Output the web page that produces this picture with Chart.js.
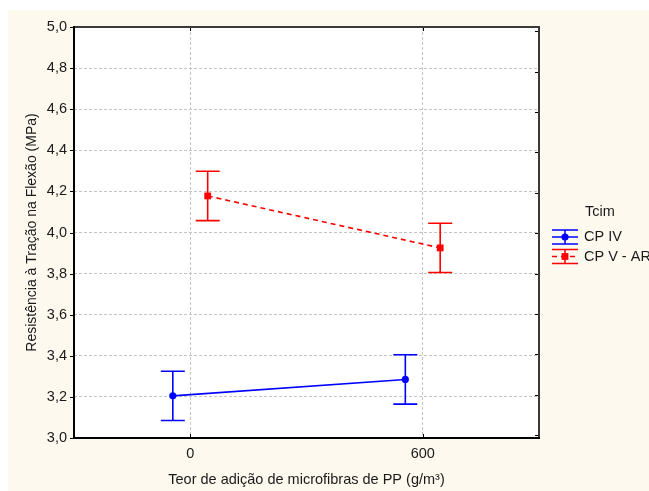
<!DOCTYPE html>
<html>
<head>
<meta charset="utf-8">
<script src="https://cdn.jsdelivr.net/npm/chart.js@4.4.0/dist/chart.umd.min.js"></script>
<style>
  html, body { margin: 0; padding: 0; background: #fff; }
  canvas { display: block; }
</style>
</head>
<body>
<canvas id="chart" width="649" height="491"></canvas>
<script>
// fibre dosage levels (g/m³) and cement groups
const teor = [0, 600];
const cpIV = [3.205, 3.285];
const cpIVerr = [0.12, 0.12];
const cpVAR = [4.178, 3.925];
const cpVARerr = [0.12, 0.12];
const yMin = 3.0, yMax = 5.0, yStep = 0.2;

// groups are drawn a little left/right of each dosage so the bars don't overlap
const dodge = 45;

const FONT = 'Arial, "Liberation Sans", sans-serif';
const INK = '#1a1a1a';
const BLUE = '#0000ff';
const RED = '#ff0000';

function pts(vals, shift) {
  return vals.map((v, i) => ({ x: teor[i] + shift, y: v }));
}
const virgula = v => v.toFixed(1).replace('.', ',');

const series = [
  { label: 'CP IV', vals: cpIV, err: cpIVerr, color: BLUE, shift: -dodge, style: 'circle', radius: 3.6, dash: [] },
  { label: 'CP V - AR', vals: cpVAR, err: cpVARerr, color: RED, shift: dodge, style: 'rect', radius: 4.8, dash: [5, 4] }
];

const background = {
  id: 'background',
  beforeDraw(chart) {
    const c = chart.ctx, a = chart.chartArea;
    c.save();
    c.fillStyle = '#ffffff';
    c.fillRect(0, 0, chart.width, chart.height);
    c.fillStyle = '#fdf9ee';
    c.fillRect(8, 10, chart.width - 8, chart.height - 10);
    c.fillStyle = '#ffffff';
    c.fillRect(a.left, a.top, a.right - a.left, a.bottom - a.top);
    c.restore();
  }
};

const errorBars = {
  id: 'errorBars',
  beforeDatasetsDraw(chart) {
    const c = chart.ctx, xs = chart.scales.x, ys = chart.scales.y;
    c.save();
    c.lineWidth = 1.6;
    series.forEach(s => {
      c.strokeStyle = s.color;
      s.vals.forEach((v, i) => {
        const px = xs.getPixelForValue(teor[i] + s.shift);
        const hi = ys.getPixelForValue(v + s.err[i]);
        const lo = ys.getPixelForValue(v - s.err[i]);
        c.beginPath();
        c.moveTo(px, hi); c.lineTo(px, lo);
        c.moveTo(px - 12, hi); c.lineTo(px + 12, hi);
        c.moveTo(px - 12, lo); c.lineTo(px + 12, lo);
        c.stroke();
      });
    });
    c.restore();
  }
};

const frame = {
  id: 'frame',
  afterDraw(chart) {
    const c = chart.ctx, a = chart.chartArea;
    const xs = chart.scales.x, ys = chart.scales.y, yr = chart.scales.yR;
    c.save();
    c.lineWidth = 1;
    c.strokeStyle = '#000';
    c.beginPath();
    ys.ticks.forEach(t => {
      const py = Math.round(ys.getPixelForValue(t.value)) + 0.5;
      c.moveTo(a.left - 4, py); c.lineTo(a.left, py);
    });
    yr.ticks.forEach(t => {
      const py = Math.round(yr.getPixelForValue(t.value)) + 0.5;
      c.moveTo(a.right - 4, py); c.lineTo(a.right, py);
    });
    xs.ticks.forEach(t => {
      const px = Math.round(xs.getPixelForValue(t.value)) + 0.5;
      c.moveTo(px, a.bottom); c.lineTo(px, a.bottom - 4);
      c.moveTo(px, a.top); c.lineTo(px, a.top + 4);
    });
    c.stroke();

    c.lineWidth = 2;
    c.strokeStyle = '#3a3a3a';
    c.beginPath();
    c.moveTo(a.left, a.top); c.lineTo(a.right, a.top); c.lineTo(a.right, a.bottom);
    c.stroke();
    c.strokeStyle = '#000';
    c.beginPath();
    c.moveTo(a.left, a.top - 1); c.lineTo(a.left, a.bottom); c.lineTo(a.right + 1, a.bottom);
    c.stroke();
    c.restore();
  }
};

const legendBox = {
  id: 'legendBox',
  afterDraw(chart) {
    const c = chart.ctx;
    c.save();
    c.font = '14.5px ' + FONT;
    c.fillStyle = INK;
    c.textBaseline = 'middle';
    c.fillText('Tcim', 585, 212);
    series.forEach((s, i) => {
      const cy = 237 + i * 19.5, x0 = 552, x1 = 578, cx = 565;
      c.strokeStyle = s.color;
      c.fillStyle = s.color;
      c.lineWidth = 1.5;
      c.setLineDash([]);
      c.beginPath();
      c.moveTo(x0, cy - 7); c.lineTo(x1, cy - 7);
      c.moveTo(x0, cy + 7); c.lineTo(x1, cy + 7);
      c.moveTo(cx, cy - 7); c.lineTo(cx, cy + 7);
      c.stroke();
      c.setLineDash(s.dash);
      c.beginPath();
      c.moveTo(x0, cy); c.lineTo(x1, cy);
      c.stroke();
      c.setLineDash([]);
      if (s.style === 'circle') {
        c.beginPath(); c.arc(cx, cy, 3.6, 0, Math.PI * 2); c.fill();
      } else {
        c.fillRect(cx - 3.4, cy - 3.4, 6.8, 6.8);
      }
      c.fillStyle = INK;
      c.fillText(s.label, 584, cy);
    });
    c.restore();
  }
};

new Chart(document.getElementById('chart').getContext('2d'), {
  type: 'line',
  data: {
    datasets: series.map(s => ({
      label: s.label,
      data: pts(s.vals, s.shift),
      borderColor: s.color,
      backgroundColor: s.color,
      borderWidth: 1.6,
      borderDash: s.dash,
      pointStyle: s.style,
      pointRadius: s.radius,
      pointBorderWidth: 0,
      pointBackgroundColor: s.color,
      tension: 0,
      fill: false
    }))
  },
  options: {
    responsive: false,
    animation: false,
    events: [],
    layout: { padding: { top: 27, right: 110, left: 0, bottom: 0 } },
    plugins: { legend: { display: false }, tooltip: { enabled: false } },
    scales: {
      x: {
        type: 'linear',
        min: -300,
        max: 900,
        afterBuildTicks: scale => { scale.ticks = teor.map(v => ({ value: v })); },
        afterFit: scale => { scale.height = 53; },
        ticks: { color: INK, font: { family: FONT, size: 14.5 }, padding: 7, maxRotation: 0 },
        grid: { color: '#c4c4c4', lineWidth: 1, drawTicks: false },
        border: { display: false, dash: [3, 2] },
        title: {
          display: true,
          text: 'Teor de adição de microfibras de PP (g/m³)',
          color: INK,
          font: { family: FONT, size: 14.5 },
          padding: { top: 0, bottom: 2 }
        }
      },
      y: {
        min: yMin,
        max: yMax,
        afterFit: scale => { scale.width = 74; },
        ticks: { stepSize: yStep, color: INK, font: { family: FONT, size: 14.5 }, padding: 7, callback: v => virgula(v) },
        grid: { color: '#c4c4c4', lineWidth: 1, drawTicks: false },
        border: { display: false, dash: [3, 2] },
        title: {
          display: true,
          text: 'Resistência à Tração na Flexão (MPa)',
          color: INK,
          font: { family: FONT, size: 14 },
          padding: { top: 23.5, bottom: 0 }
        }
      },
      yR: {
        position: 'right',
        min: 2.985,
        max: 5.022,
        afterFit: scale => { scale.width = 0; },
        ticks: { stepSize: yStep, display: false, includeBounds: false },
        grid: { display: false, drawTicks: false },
        border: { display: false }
      }
    }
  },
  plugins: [background, errorBars, frame, legendBox]
});
</script>
</body>
</html>
